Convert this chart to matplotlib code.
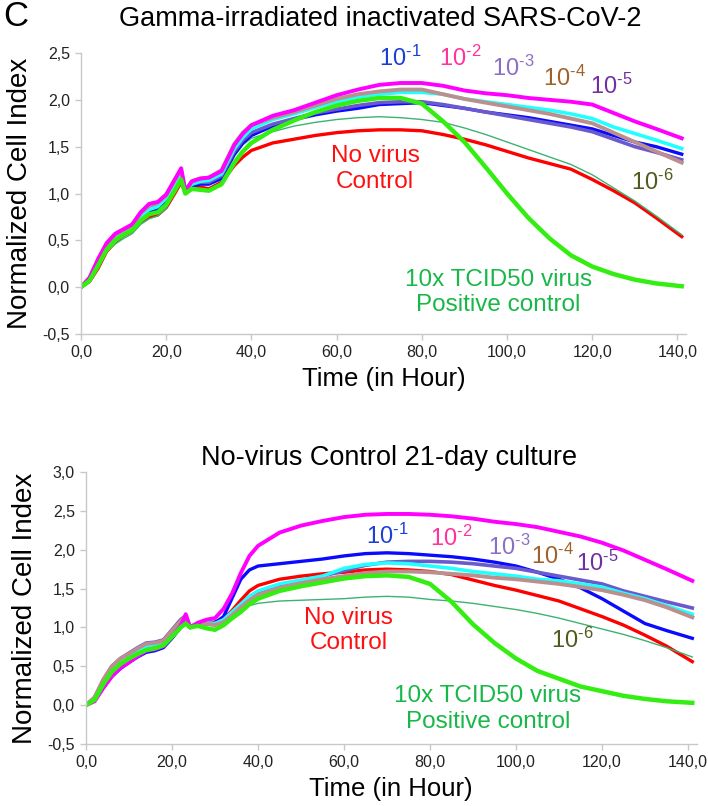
import matplotlib
matplotlib.use('Agg')
import matplotlib.pyplot as plt

plt.rcParams['font.family'] = ['Liberation Sans', 'DejaVu Sans']
plt.rcParams['mathtext.fontset'] = 'custom'
plt.rcParams['mathtext.rm'] = 'Liberation Sans'
plt.rcParams['mathtext.default'] = 'regular'

# ---- top panel: gamma-irradiated inactivated SARS-CoV-2 ----
t_top = [0, 2, 4, 6, 8, 10, 12, 14, 16, 18, 20, 22, 23.5, 24.5, 26, 28, 30, 33, 36, 38, 40,
         45, 50, 55, 60, 65, 70, 75, 80, 85, 90, 95, 100, 105, 110, 115, 120, 125, 130, 135, 141]
top_red = [0, 0.06, 0.2, 0.38, 0.48, 0.55, 0.6, 0.69, 0.75, 0.77, 0.85, 1.0, 1.12, 1.0, 1.05, 1.07, 1.05, 1.12, 1.3, 1.39, 1.46,
           1.54, 1.58, 1.62, 1.65, 1.67, 1.68, 1.68, 1.67, 1.63, 1.58, 1.52, 1.45, 1.38, 1.32, 1.26, 1.15, 1.03, 0.9, 0.74, 0.54]
top_thin = [0, 0.05, 0.2, 0.38, 0.46, 0.52, 0.57, 0.67, 0.73, 0.76, 0.84, 1.02, 1.2, 1.03, 1.12, 1.13, 1.12, 1.2, 1.4, 1.52, 1.59,
            1.66, 1.72, 1.76, 1.79, 1.81, 1.82, 1.81, 1.79, 1.76, 1.7, 1.63, 1.55, 1.47, 1.39, 1.31, 1.2, 1.06, 0.92, 0.76, 0.56]
top_blue = [0, 0.08, 0.25, 0.41, 0.51, 0.57, 0.62, 0.72, 0.8, 0.83, 0.92, 1.07, 1.18, 1.01, 1.08, 1.1, 1.1, 1.16, 1.42, 1.54, 1.62,
            1.72, 1.79, 1.84, 1.88, 1.91, 1.95, 1.96, 1.97, 1.94, 1.91, 1.87, 1.84, 1.81, 1.77, 1.73, 1.69, 1.62, 1.55, 1.5, 1.42]
top_purple = [0, 0.09, 0.27, 0.43, 0.54, 0.6, 0.65, 0.77, 0.84, 0.87, 0.95, 1.1, 1.21, 1.02, 1.1, 1.12, 1.12, 1.19, 1.45, 1.57, 1.65,
              1.74, 1.8, 1.86, 1.9, 1.94, 1.97, 1.98, 1.98, 1.95, 1.91, 1.87, 1.83, 1.79, 1.75, 1.71, 1.66, 1.58, 1.5, 1.44, 1.36]
top_brown = [0, 0.1, 0.29, 0.45, 0.56, 0.61, 0.66, 0.79, 0.87, 0.9, 0.98, 1.14, 1.25, 1.02, 1.13, 1.16, 1.17, 1.25, 1.53, 1.65, 1.73,
             1.81, 1.87, 1.94, 2.01, 2.06, 2.09, 2.11, 2.11, 2.06, 2.01, 1.97, 1.93, 1.89, 1.85, 1.8, 1.75, 1.65, 1.55, 1.45, 1.33]
top_cyan = [0, 0.09, 0.27, 0.43, 0.53, 0.59, 0.64, 0.75, 0.83, 0.86, 0.95, 1.1, 1.2, 1.02, 1.1, 1.13, 1.14, 1.21, 1.48, 1.6, 1.69,
            1.79, 1.85, 1.92, 1.98, 2.03, 2.06, 2.08, 2.08, 2.06, 2.01, 1.98, 1.95, 1.92, 1.89, 1.85, 1.8, 1.71, 1.64, 1.57, 1.48]
top_magenta = [0, 0.1, 0.3, 0.47, 0.57, 0.62, 0.67, 0.8, 0.89, 0.91, 0.99, 1.15, 1.27, 1.03, 1.13, 1.16, 1.17, 1.24, 1.52, 1.64, 1.73,
               1.83, 1.89, 1.97, 2.05, 2.11, 2.16, 2.18, 2.18, 2.15, 2.1, 2.07, 2.05, 2.02, 2.0, 1.98, 1.95, 1.86, 1.77, 1.69, 1.59]
top_lime = [0, 0.07, 0.23, 0.4, 0.5, 0.56, 0.61, 0.71, 0.78, 0.8, 0.88, 1.03, 1.15, 1.0, 1.05, 1.04, 1.03, 1.1, 1.33, 1.45, 1.54,
            1.68, 1.78, 1.87, 1.94, 1.99, 2.02, 2.02, 1.96, 1.77, 1.55, 1.28, 1.0, 0.74, 0.52, 0.34, 0.22, 0.14, 0.08, 0.04, 0.01]

# ---- bottom panel: no-virus control 21-day culture ----
t_bot = [0, 2, 4, 6, 8, 10, 12, 14, 16, 18, 20, 22, 23.2, 24.2, 26, 28, 30, 32, 34, 36, 38, 40,
         45, 50, 55, 60, 65, 70, 75, 80, 85, 90, 95, 100, 105, 110, 115, 120, 125, 130, 135, 141]
bot_red = [0, 0.08, 0.28, 0.45, 0.55, 0.62, 0.67, 0.72, 0.74, 0.78, 0.9, 1.02, 1.1, 1.0, 1.04, 1.06, 1.07, 1.11, 1.22, 1.35, 1.47, 1.54,
           1.62, 1.66, 1.69, 1.71, 1.74, 1.75, 1.74, 1.72, 1.68, 1.61, 1.54, 1.48, 1.41, 1.34, 1.24, 1.14, 1.03, 0.9, 0.76, 0.56]
bot_thin = [0, 0.06, 0.24, 0.4, 0.5, 0.57, 0.64, 0.69, 0.71, 0.75, 0.86, 0.98, 1.04, 1.0, 1.03, 1.03, 1.02, 1.07, 1.15, 1.23, 1.28, 1.31,
            1.34, 1.35, 1.36, 1.37, 1.39, 1.4, 1.39, 1.36, 1.34, 1.31, 1.27, 1.23, 1.18, 1.12, 1.05, 0.98, 0.91, 0.83, 0.74, 0.62]
bot_blue = [0, 0.06, 0.22, 0.37, 0.47, 0.55, 0.62, 0.68, 0.7, 0.74, 0.86, 1.0, 1.08, 1.0, 1.04, 1.06, 1.06, 1.14, 1.38, 1.62, 1.74, 1.79,
            1.82, 1.85, 1.88, 1.92, 1.95, 1.96, 1.95, 1.93, 1.91, 1.88, 1.84, 1.79, 1.71, 1.62, 1.51, 1.37, 1.21, 1.05, 0.96, 0.86]
bot_purple = [0, 0.1, 0.32, 0.5, 0.6, 0.67, 0.74, 0.8, 0.81, 0.84, 0.97, 1.1, 1.15, 1.01, 1.05, 1.06, 1.05, 1.09, 1.18, 1.28, 1.38, 1.45,
              1.54, 1.6, 1.66, 1.73, 1.8, 1.84, 1.85, 1.85, 1.84, 1.82, 1.79, 1.76, 1.71, 1.66, 1.61, 1.56, 1.47, 1.4, 1.33, 1.25]
bot_brown = [0, 0.1, 0.33, 0.5, 0.6, 0.66, 0.73, 0.79, 0.8, 0.83, 0.96, 1.08, 1.14, 1.0, 1.04, 1.05, 1.03, 1.07, 1.16, 1.26, 1.35, 1.42,
             1.51, 1.57, 1.62, 1.66, 1.7, 1.72, 1.72, 1.71, 1.69, 1.67, 1.64, 1.62, 1.59, 1.56, 1.52, 1.48, 1.42, 1.35, 1.26, 1.13]
bot_cyan = [0, 0.08, 0.29, 0.46, 0.56, 0.63, 0.7, 0.76, 0.78, 0.82, 0.94, 1.07, 1.12, 1.0, 1.05, 1.06, 1.05, 1.1, 1.2, 1.3, 1.4, 1.47,
            1.56, 1.61, 1.66, 1.76, 1.81, 1.83, 1.82, 1.79, 1.76, 1.72, 1.69, 1.66, 1.62, 1.6, 1.56, 1.52, 1.44, 1.37, 1.28, 1.17]
bot_magenta = [0, 0.05, 0.22, 0.37, 0.48, 0.55, 0.63, 0.7, 0.72, 0.76, 0.88, 1.02, 1.17, 1.0, 1.06, 1.1, 1.12, 1.24, 1.44, 1.7, 1.92, 2.05,
               2.22, 2.31, 2.37, 2.42, 2.45, 2.46, 2.46, 2.45, 2.43, 2.4, 2.36, 2.33, 2.29, 2.23, 2.17, 2.09, 1.99, 1.87, 1.75, 1.6]
bot_lime = [0, 0.07, 0.27, 0.43, 0.53, 0.6, 0.66, 0.71, 0.73, 0.77, 0.88, 1.0, 1.05, 1.0, 1.02, 0.99, 0.97, 1.03, 1.12, 1.2, 1.3, 1.37,
            1.47, 1.53, 1.58, 1.63, 1.66, 1.67, 1.65, 1.56, 1.33, 1.04, 0.8, 0.6, 0.44, 0.34, 0.24, 0.18, 0.12, 0.08, 0.05, 0.03]

x_ticks = [0, 20, 40, 60, 80, 100, 120, 140]
x_ticklabels = ['0,0', '20,0', '40,0', '60,0', '80,0', '100,0', '120,0', '140,0']
y_ticks_top = [-0.5, 0, 0.5, 1.0, 1.5, 2.0, 2.5]
y_ticklabels_top = ['-0,5', '0,0', '0,5', '1,0', '1,5', '2,0', '2,5']
y_ticks_bot = [-0.5, 0, 0.5, 1.0, 1.5, 2.0, 2.5, 3.0]
y_ticklabels_bot = ['-0,5', '0,0', '0,5', '1,0', '1,5', '2,0', '2,5', '3,0']

# dilution labels: exponent text, colour, (x, y) per panel
dilution_exps = ['\u20101', '\u20102', '\u20103', '\u20104', '\u20105', '\u20106']
dilution_colors = ['#1a3fd8', '#ff3399', '#8a70c4', '#a0622d', '#7030a0', '#4f5a1e']
top_label_pos = [(75, 2.44), (89, 2.44), (101.5, 2.34), (113.5, 2.23), (124.5, 2.15), (134, 1.12)]
bot_label_pos = [(70, 2.17), (85, 2.15), (98.5, 2.03), (108.5, 1.91), (119, 1.82), (113, 0.84)]
top_novirus_pos = (69, 1.26)
bot_novirus_pos = (61, 0.96)
top_pos_ctrl = (98, -0.06)
bot_pos_ctrl = (93.5, -0.05)


def draw_panel(ax, t, red, thin, blue, purple, brown, cyan, magenta, lime):
    ax.plot(t, red, color='#ff0000', lw=2.4)
    ax.plot(t, thin, color='#3cb371', lw=1.0)
    ax.plot(t, blue, color='#0a0aff', lw=2.4)
    ax.plot(t, purple, color='#6a5acd', lw=2.6)
    ax.plot(t, cyan, color='#22ffff', lw=2.6)
    ax.plot(t, brown, color='#bc8f8f', lw=2.8)
    ax.plot(t, magenta, color='#ff00ff', lw=2.8)
    ax.plot(t, lime, color='#33ee11', lw=3.2)


def style_axes(ax, y_ticks, y_ticklabels, ylim):
    ax.set_xlim(0, 142)
    ax.set_ylim(*ylim)
    ax.set_xticks(x_ticks)
    ax.set_xticklabels(x_ticklabels)
    ax.set_yticks(y_ticks)
    ax.set_yticklabels(y_ticklabels)
    for side in ('top', 'right'):
        ax.spines[side].set_visible(False)
    for side in ('left', 'bottom'):
        ax.spines[side].set_color('#c8c8c8')
        ax.spines[side].set_linewidth(1.0)
    ax.tick_params(length=4, width=1, color='#c8c8c8', labelsize=11.5, labelcolor='#222222', pad=4)
    ax.set_xlabel('Time (in Hour)', fontsize=18.5, labelpad=5)
    ax.set_ylabel('Normalized Cell Index', fontsize=20, labelpad=7)


def add_labels(ax, label_pos, novirus_pos, pos_ctrl):
    for exp, color, (x, y) in zip(dilution_exps, dilution_colors, label_pos):
        ax.text(x, y, '10$^{' + exp + '}$', color=color, fontsize=17, ha='center', va='center')
    ax.text(novirus_pos[0], novirus_pos[1], 'No virus\nControl', color='#ff1010', fontsize=17.5,
            ha='center', va='center', linespacing=1.2)
    ax.text(pos_ctrl[0], pos_ctrl[1], '10x TCID50 virus\nPositive control', color='#18b848', fontsize=17.5,
            ha='center', va='center', linespacing=1.2)


fig = plt.figure(figsize=(7.08, 8.06), dpi=100)
ax1 = fig.add_axes([0.1144, 0.5856, 0.8545, 0.3486])
ax2 = fig.add_axes([0.1215, 0.0769, 0.8624, 0.3375])

draw_panel(ax1, t_top, top_red, top_thin, top_blue, top_purple, top_brown, top_cyan, top_magenta, top_lime)
draw_panel(ax2, t_bot, bot_red, bot_thin, bot_blue, bot_purple, bot_brown, bot_cyan, bot_magenta, bot_lime)
style_axes(ax1, y_ticks_top, y_ticklabels_top, (-0.5, 2.5))
style_axes(ax2, y_ticks_bot, y_ticklabels_bot, (-0.5, 3.0))
add_labels(ax1, top_label_pos, top_novirus_pos, top_pos_ctrl)
add_labels(ax2, bot_label_pos, bot_novirus_pos, bot_pos_ctrl)

fig.text(0.537, 1 - 19 / 806, 'Gamma-irradiated inactivated SARS-CoV-2', fontsize=19.5, ha='center', va='center')
fig.text(0.55, 1 - 458 / 806, 'No-virus Control 21-day culture', fontsize=19.5, ha='center', va='center')
fig.text(0.004, 1 - 17 / 806, 'C', fontsize=25, ha='left', va='center')

fig.savefig('out.png', dpi=100)
